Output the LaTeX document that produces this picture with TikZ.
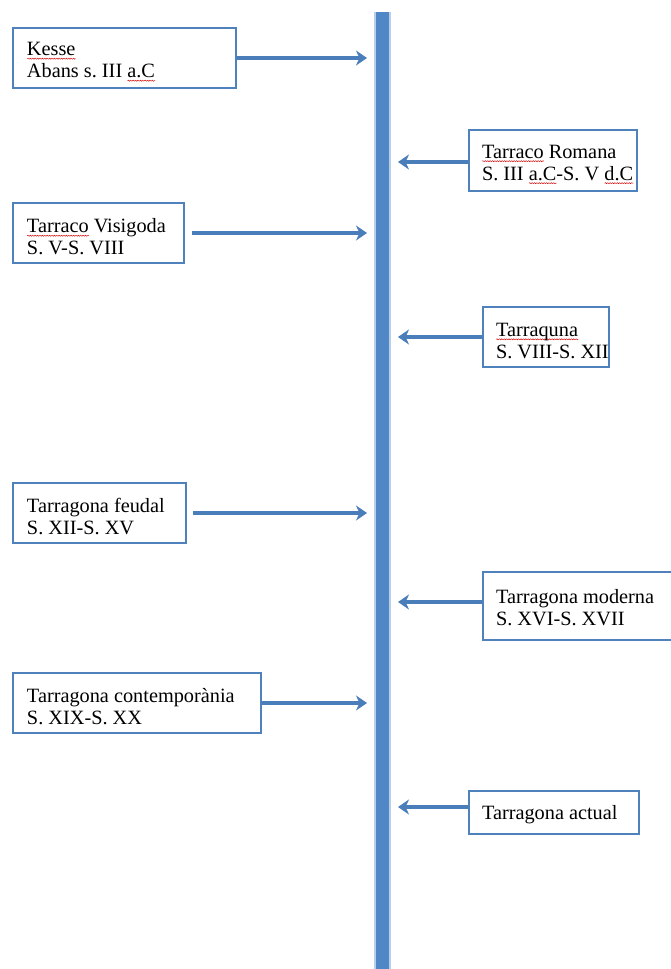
\documentclass[tikz,border=0pt]{standalone}
\usepackage{fontspec}
\setmainfont{Liberation Serif}
\usetikzlibrary{arrows.meta,decorations.pathmorphing}
\definecolor{boxblue}{HTML}{4F81BD}
\definecolor{arrblue}{HTML}{4A7EBB}
\definecolor{barblue}{HTML}{5087C6}
\frenchspacing
\newsavebox\sqwbox
\newlength\sqwlen
\newcommand\sqw[1]{\sbox\sqwbox{#1}\setlength\sqwlen{\wd\sqwbox}\leavevmode\rlap{\raisebox{-3.6pt}{\tikz[x=1pt,y=1pt]\draw[red!85!black,line width=0.45pt,decorate,decoration={snake,amplitude=0.55pt,segment length=2.4pt}] (0,0) -- (\sqwlen,0);}}\usebox\sqwbox}
\tikzset{
  tbox/.style={draw=boxblue, line width=2.4pt, fill=white, inner sep=0pt, anchor=center},
  ttext/.style={inner sep=0pt, align=left, anchor=west, font=\fontsize{20.3}{22}\selectfont},
  tarrow/.style={draw=arrblue, line width=3.2pt, -{Stealth[length=11pt,width=15pt,inset=3.5pt]}},
}
\begin{document}
\begin{tikzpicture}[x=1pt,y=-1pt]
\useasboundingbox (0,0) rectangle (671,969);
% timeline bar
\draw[barblue!40, line width=17pt] (382,12) -- (382,975);
\draw[barblue, line width=13pt] (382,12) -- (382,975);
\coordinate (L1) at (367,58);
\coordinate (R1) at (398,162);
\coordinate (L2) at (367,233);
\coordinate (R2) at (398,337);
\coordinate (L3) at (367,513);
\coordinate (R3) at (398,602);
\coordinate (L4) at (367,703);
\coordinate (R4) at (398,807);
% boxes
\node[tbox, minimum width=223pt, minimum height=60pt] (kesse) at (124.5,58) {};
\node[ttext] (kesset) at ([xshift=15pt,yshift=-4pt]kesse.west)
  {\sqw{Kesse}\\Abans s. III \sqw{a.C}};
\node[tbox, minimum width=168pt, minimum height=61pt] (romana) at (553,160.5) {};
\node[ttext] (romanat) at ([xshift=14pt,yshift=-4pt]romana.west)
  {\sqw{Tarraco} Romana\\S. III \sqw{a.C}-S. V \sqw{d.C}};
\node[tbox, minimum width=171pt, minimum height=60pt] (visigoda) at (98.5,233) {};
\node[ttext] (visigodat) at ([xshift=15pt,yshift=-4pt]visigoda.west)
  {\sqw{Tarraco} Visigoda\\S. V-S. VIII};
\node[tbox, minimum width=126pt, minimum height=60pt] (tarraquna) at (546,337) {};
\node[ttext] (tarraqunat) at ([xshift=14pt,yshift=-4pt]tarraquna.west)
  {\sqw{Tarraquna}\\S. VIII-S. XII};
\node[tbox, minimum width=173pt, minimum height=60pt] (feudal) at (99.5,513) {};
\node[ttext] (feudalt) at ([xshift=15pt,yshift=-4pt]feudal.west)
  {Tarragona feudal\\S. XII-S. XV};
\node[tbox, minimum width=200pt, minimum height=68pt] (moderna) at (583,606) {};
\node[ttext] (modernat) at ([xshift=14pt,yshift=-2pt]moderna.west)
  {Tarragona moderna\\S. XVI-S. XVII};
\node[tbox, minimum width=248pt, minimum height=60pt] (contemp) at (137,703) {};
\node[ttext] (contempt) at ([xshift=15pt,yshift=-4pt]contemp.west)
  {Tarragona contemporània\\S. XIX-S. XX};
\node[tbox, minimum width=170pt, minimum height=43pt] (actual) at (554,812.5) {};
\node[ttext] (actualt) at ([xshift=14pt,yshift=-2pt]actual.west) {Tarragona actual};
% arrows
\draw[tarrow] (kesse.east |- L1) -- (L1);
\draw[tarrow] (romana.west |- R1) -- (R1);
\draw[tarrow] ([xshift=7pt]visigoda.east |- L2) -- (L2);
\draw[tarrow] (tarraquna.west |- R2) -- (R2);
\draw[tarrow] ([xshift=6pt]feudal.east |- L3) -- (L3);
\draw[tarrow] (moderna.west |- R3) -- (R3);
\draw[tarrow] (contemp.east |- L4) -- (L4);
\draw[tarrow] (actual.west |- R4) -- (R4);
\end{tikzpicture}
\end{document}
